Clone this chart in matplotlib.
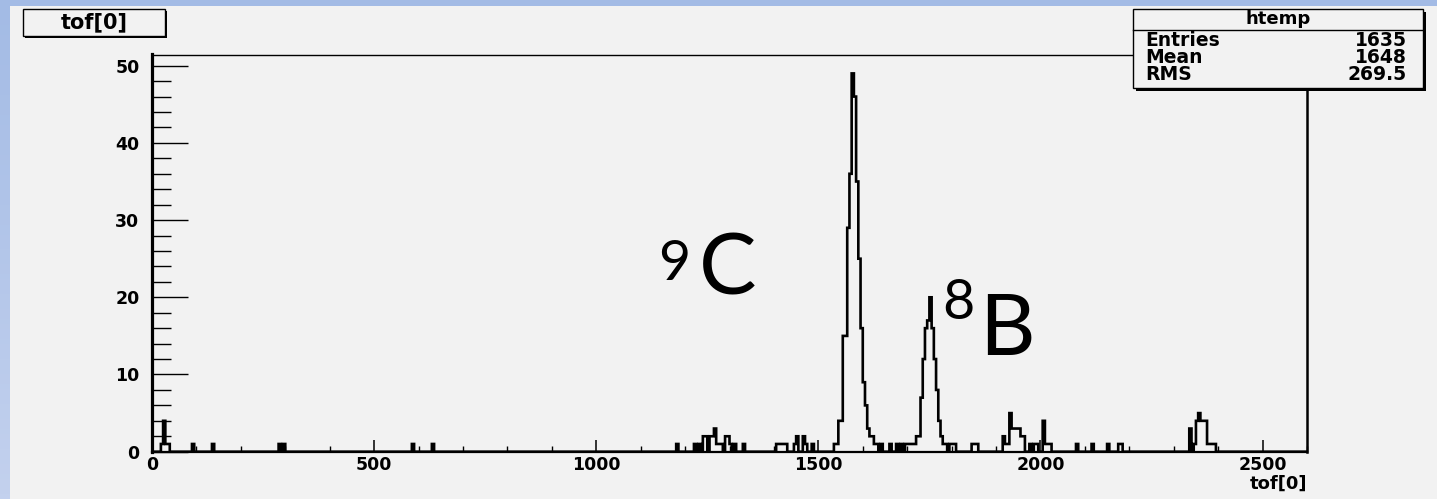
import numpy as np
import matplotlib.pyplot as plt
from matplotlib.patches import Rectangle
from matplotlib.ticker import MultipleLocator

# histogram: left edge of each non-empty 5-unit bin and its count
bin_left = [20, 25, 30, 35, 90, 135, 285, 295, 585, 630,
            1180, 1220, 1230, 1240, 1245, 1255, 1260, 1265, 1270, 1275, 1280,
            1290, 1295, 1300, 1310, 1330,
            1405, 1410, 1415, 1420, 1425, 1445, 1450, 1465, 1470, 1485,
            1535, 1540, 1545, 1550, 1555, 1560, 1565, 1570, 1575, 1580,
            1585, 1590, 1595, 1600, 1605, 1610, 1615, 1620, 1625, 1630,
            1640, 1660, 1675, 1685, 1695, 1700, 1705, 1710, 1715, 1720,
            1725, 1730, 1735, 1740, 1745, 1750, 1755, 1760, 1765, 1770,
            1775, 1780, 1785, 1795, 1800, 1805, 1845, 1850, 1855,
            1915, 1920, 1925, 1930, 1935, 1940, 1945, 1950, 1955, 1960,
            1975, 1985, 1990, 2005, 2010, 2015, 2020, 2080, 2115, 2150,
            2175, 2180,
            2335, 2345, 2350, 2355, 2360, 2365, 2370, 2375, 2380, 2385, 2390]
bin_count = [1, 4, 1, 1, 1, 1, 1, 1, 1, 1,
             1, 1, 1, 2, 2, 2, 2, 3, 1, 1, 1,
             2, 2, 1, 1, 1,
             1, 1, 1, 1, 1, 1, 2, 2, 1, 1,
             1, 1, 4, 4, 15, 15, 29, 36, 49, 46,
             35, 25, 16, 9, 6, 3, 2, 2, 1, 1,
             1, 1, 1, 1, 1, 1, 1, 1, 1, 2,
             2, 7, 12, 16, 17, 20, 16, 12, 8, 4,
             2, 1, 1, 1, 1, 1, 1, 1, 1,
             2, 1, 1, 5, 3, 3, 3, 3, 2, 2,
             1, 1, 1, 4, 1, 1, 1, 1, 1, 1,
             1, 1,
             3, 1, 4, 5, 4, 4, 4, 1, 1, 1, 1]

bin_width = 5
x_max = 2600
y_max = 49 * 1.05

stat_names = ["Entries", "Mean", "RMS"]
stat_values = ["1635", "1648", "269.5"]

edges = np.arange(0, x_max + bin_width, bin_width)
counts = np.zeros(len(edges) - 1)
for left, c in zip(bin_left, bin_count):
    counts[int(left // bin_width)] = c

W, H = 1437, 499
fig = plt.figure(figsize=(W / 100, H / 100), dpi=100)

# slide background + ROOT canvas
bg = fig.add_axes([0, 0, 1, 1], zorder=0)
bg.set_xlim(0, W)
bg.set_ylim(H, 0)
bg.axis('off')
grad = np.linspace(0, 1, 100).reshape(-1, 1)
bg.imshow(grad, extent=[0, W, H, 0], aspect='auto',
          cmap=plt.matplotlib.colors.LinearSegmentedColormap.from_list('s', ['#a3bbe5', '#c3d1ee']))
bg.add_patch(Rectangle((10, 6), W - 10, H - 6, facecolor='#f2f2f2', edgecolor='none'))

# main histogram frame
L, R, T, B = 152, 1307, 54.5, 451.7
ax = fig.add_axes([L / W, 1 - B / H, (R - L) / W, (B - T) / H], zorder=2)
ax.set_facecolor('none')
ax.stairs(counts, edges, color='black', lw=1.9)
ax.set_xlim(0, x_max)
ax.set_ylim(0, y_max)

ax.xaxis.set_major_locator(MultipleLocator(500))
ax.xaxis.set_minor_locator(MultipleLocator(100))
ax.yaxis.set_major_locator(MultipleLocator(10))
ax.yaxis.set_minor_locator(MultipleLocator(2))
ax.tick_params(axis='x', which='major', direction='in', length=8.6, width=1.1, pad=3)
ax.tick_params(axis='x', which='minor', direction='in', length=4.3, width=1.0)
ax.tick_params(axis='y', which='major', direction='in', length=26, width=1.0, pad=9)
ax.tick_params(axis='y', which='minor', direction='in', length=14, width=1.0)
for lab in ax.get_xticklabels() + ax.get_yticklabels():
    lab.set_fontfamily('DejaVu Sans')
    lab.set_fontweight('bold')
    lab.set_fontsize(12.5)
ax.spines['left'].set_linewidth(2.3)
ax.spines['bottom'].set_linewidth(1.6)
ax.spines['right'].set_linewidth(1.8)
ax.spines['top'].set_linewidth(1.0)
ax.set_xlabel('tof[0]', fontsize=13, fontweight='bold', family='DejaVu Sans')
ax.xaxis.set_label_coords(1.0, -0.058)
ax.xaxis.label.set_horizontalalignment('right')

# isotope labels
ax.text(1140, 27.5, '9', fontsize=40, family='Lato', ha='left', va='top')
ax.text(1230, 20.3, 'C', fontsize=62, family='Lato', ha='left', va='baseline')
ax.text(1780, 22.5, '8', fontsize=40, family='Lato', ha='left', va='top')
ax.text(1862, 12.5, 'B', fontsize=62, family='Lato', ha='left', va='baseline')

# title box and stats box
fg = fig.add_axes([0, 0, 1, 1], zorder=5)
fg.set_xlim(0, W)
fg.set_ylim(H, 0)
fg.axis('off')
fg.add_patch(Rectangle((25, 11), 142, 27, facecolor='black', edgecolor='none'))
fg.add_patch(Rectangle((23, 9), 142, 27, facecolor='#f2f2f2', edgecolor='black', lw=1))
fg.text(94, 22.5, 'tof[0]', fontsize=15, fontweight='bold', family='DejaVu Sans',
        ha='center', va='center')

fg.add_patch(Rectangle((1136, 12), 290, 79, facecolor='black', edgecolor='none'))
fg.add_patch(Rectangle((1133, 9), 290, 79, facecolor='#f2f2f2', edgecolor='black', lw=1))
fg.plot([1133, 1423], [29.5, 29.5], color='black', lw=1)
fg.text(1278, 19, 'htemp', fontsize=13, fontweight='bold', family='DejaVu Sans',
        ha='center', va='center')
for i, (name, val) in enumerate(zip(stat_names, stat_values)):
    y = 40 + i * 17
    fg.text(1145, y, name, fontsize=13.5, fontweight='bold', family='DejaVu Sans',
            ha='left', va='center')
    fg.text(1407, y, val, fontsize=13.5, fontweight='bold', family='DejaVu Sans',
            ha='right', va='center')

fig.savefig('out.png', dpi=100)
